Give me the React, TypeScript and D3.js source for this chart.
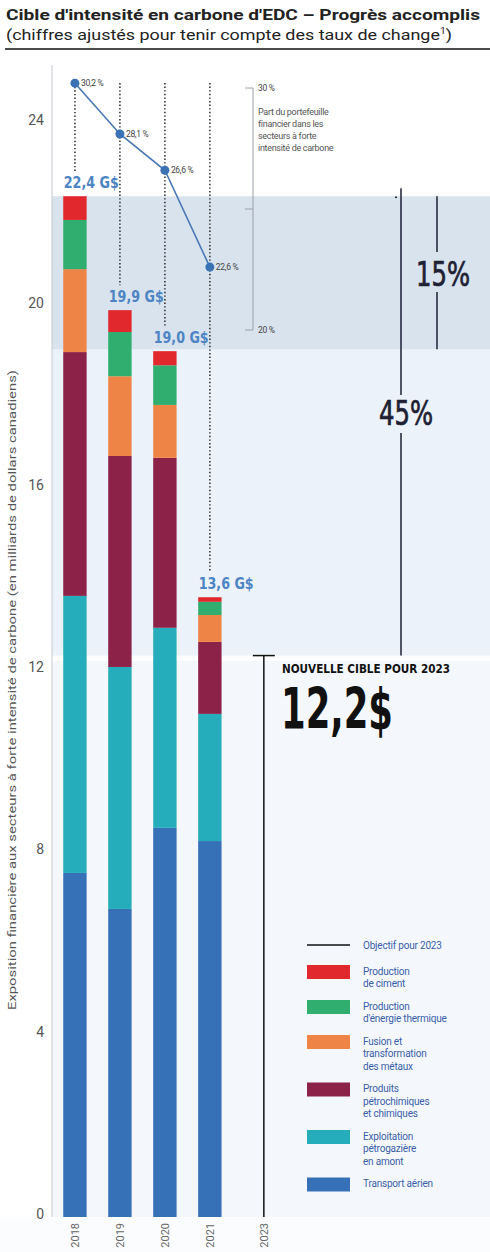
import React from 'react';
import * as d3 from 'd3';

// ---------- data ----------
const years = ['2018', '2019', '2020', '2021'];
const targetYear = '2023';
const transport = [7.55, 6.76, 8.54, 8.25];
const upstream = [6.08, 5.31, 4.39, 2.79];
const petrochem = [5.35, 4.63, 3.73, 1.58];
const metals = [1.82, 1.75, 1.16, 0.59];
const thermal = [1.08, 0.97, 0.87, 0.29];
const cement = [0.52, 0.48, 0.31, 0.1];
const totals = [22.4, 19.9, 19.0, 13.6];
const totalLabels = ['22,4 G$', '19,9 G$', '19,0 G$', '13,6 G$'];
const sharePct = [30.2, 28.1, 26.6, 22.6];
const shareLabels = ['30,2 %', '28,1 %', '26,6 %', '22,6 %'];
const yTicks = [0, 4, 8, 12, 16, 20, 24];
const pctTicks = [30, 25, 20];
const pctTickLabels = ['30 %', '', '20 %'];
const target = 12.2;
const targetLabel = '12,2$';
const reductions = [15, 45];
const reductionLabels = ['15%', '45%'];

const sectorKeys = ['transport', 'upstream', 'petrochem', 'metals', 'thermal', 'cement'];
const sectorColors = ['#3670b7', '#26adbb', '#8c2248', '#ef8447', '#2fae6f', '#e1282c'];
const sectorLegend = [
  ['Transport aérien'],
  ['Exploitation', 'pétrogazière', 'en amont'],
  ['Produits', 'pétrochimiques', 'et chimiques'],
  ['Fusion et', 'transformation', 'des métaux'],
  ['Production', "d'énergie thermique"],
  ['Production', 'de ciment'],
];

const COND = "'Liberation Sans Narrow', 'DejaVu Sans Condensed', 'Roboto Condensed', 'Roboto', sans-serif";
const SANS = "Roboto, 'Open Sans', 'DejaVu Sans', sans-serif";

export default function App() {
  const W = 490, H = 1252;
  const axisX = 52;
  const y = d3.scaleLinear().domain([0, 25]).range([1217, 1217 - 25 * 45.57]);
  const x = d3.scaleBand().domain(years).range([axisX, axisX + 4 * 45.2]).paddingInner(0.48).paddingOuter(0.25);
  const step = x.step();
  const xc = (yr: string) => (x(yr) as number) + x.bandwidth() / 2;
  const x2023 = xc('2021') + step * 1.2;
  const pctY = d3.scaleLinear().domain([20, 30]).range([330, 88]);
  const pctAxisX = 253;

  const rows = years.map((yr, i) => ({
    year: yr,
    transport: transport[i], upstream: upstream[i], petrochem: petrochem[i],
    metals: metals[i], thermal: thermal[i], cement: cement[i],
  }));
  const stacked = d3.stack<any>().keys(sectorKeys)(rows);

  const base = totals[0];
  const bandBottoms = reductions.map(r => base * (1 - r / 100));
  const line = d3.line<number>().x((_, i) => xc(years[i])).y(d => pctY(d));

  // legend layout
  const legendItems = sectorKeys.map((k, i) => ({ k, i })).reverse();
  let ly = 965;
  const legendPos = legendItems.map(({ k, i }) => {
    const pos = { k, color: sectorColors[i], lines: sectorLegend[i], y: ly };
    ly += sectorLegend[i].length * 12.5 + 10;
    return pos;
  });

  const blue = '#4d84c3';
  const dark = '#1d2133';

  return (
    <svg width={W} height={H} style={{ position: 'absolute', left: 0, top: 0, background: '#fff' }}>
      {/* title */}
      <text x={6} y={20} fontFamily={SANS} fontWeight={700} fontSize={15.5} fill="#222" textLength={474} lengthAdjust="spacingAndGlyphs">
        Cible d'intensité en carbone d'EDC – Progrès accomplis
      </text>
      <text x={6} y={40} fontFamily={SANS} fontSize={15.5} fill="#222" textLength={446} lengthAdjust="spacingAndGlyphs">
        (chiffres ajustés pour tenir compte des taux de change<tspan fontSize={9} dy={-6}>1</tspan><tspan dy={6}>)</tspan>
      </text>
      <line x1={5} x2={490} y1={49} y2={49} stroke="#111" strokeWidth={1.5} />

      {/* backgrounds */}
      <rect x={axisX} y={y(target)} width={W - axisX} height={y(0) - y(target)} fill="#f4f8fc" />
      <rect x={axisX} y={y(bandBottoms[0])} width={W - axisX} height={y(bandBottoms[1]) - y(bandBottoms[0])} fill="#ebf2fa" />
      <rect x={axisX} y={y(base)} width={W - axisX} height={y(bandBottoms[0]) - y(base)} fill="#d8e3ee" />
      <rect x={0} y={y(0) + 1} width={W} height={H - y(0)} fill="#fbfcfe" />

      {/* y axis */}
      <line x1={axisX} x2={axisX} y1={65} y2={y(0)} stroke="#c4c9d0" strokeWidth={1} />
      {yTicks.map(t => (
        <text key={t} x={44} y={y(t) - 3} dy="0.35em" textAnchor="end" fontFamily={SANS} fontSize={14} fill="#555">{t}</text>
      ))}
      <text transform={`translate(16,${690}) rotate(-90)`} textAnchor="middle" fontFamily={SANS} fontSize={11.5} fill="#555" textLength={640} lengthAdjust="spacingAndGlyphs">
        Exposition financière aux secteurs à forte intensité de carbone (en milliards de dollars canadiens)
      </text>

      {/* bars */}
      {stacked.map((s, si) => (
        <g key={s.key} fill={sectorColors[si]}>
          {s.map((d, i) => (
            <rect key={i} x={x(years[i])} y={y(d[1])} width={x.bandwidth()} height={y(d[0]) - y(d[1])} />
          ))}
        </g>
      ))}

      {/* dotted guides */}
      {years.map((yr, i) => (
        <line key={yr} x1={xc(yr)} x2={xc(yr)} y1={i === 0 ? pctY(sharePct[0]) : 83} y2={y(totals[i]) - 25}
          stroke="#333" strokeWidth={1.6} strokeDasharray="1.4,2.2" />
      ))}

      {/* total labels */}
      {years.map((yr, i) => (
        <text key={yr} x={(x(yr) as number) + 0.5} y={y(totals[i]) - 8} fontFamily={COND} fontStretch="condensed" fontWeight={700} fontSize={16} fill={blue} textLength={55} lengthAdjust="spacingAndGlyphs">
          {totalLabels[i]}
        </text>
      ))}

      {/* share line */}
      <path d={line(sharePct) as string} fill="none" stroke="#4a78b5" strokeWidth={1.6} />
      {sharePct.map((p, i) => (
        <g key={i}>
          <circle cx={xc(years[i])} cy={pctY(p)} r={4.5} fill="#3b72b6" />
          <text x={xc(years[i]) + 6} y={pctY(p)} dy="0.35em" fontFamily={SANS} fontSize={8.5} fill="#444" letterSpacing={-0.3}>{shareLabels[i]}</text>
        </g>
      ))}
      <line x1={pctAxisX} x2={pctAxisX} y1={pctY(30)} y2={pctY(20)} stroke="#9aa0a8" strokeWidth={1} />
      {pctTicks.map((t, i) => (
        <g key={t}>
          <line x1={pctAxisX - 8} x2={pctAxisX} y1={pctY(t)} y2={pctY(t)} stroke="#9aa0a8" strokeWidth={1} />
          {pctTickLabels[i] ? (
            <text x={pctAxisX + 5} y={pctY(t)} dy="0.35em" fontFamily={SANS} fontSize={8.5} fill="#444" letterSpacing={-0.3}>{pctTickLabels[i]}</text>
          ) : null}
        </g>
      ))}
      {['Part du portefeuille', 'financier dans les', 'secteurs à forte', 'intensité de carbone'].map((s, i) => (
        <text key={i} x={pctAxisX + 5} y={112 + i * 12} dy="0.35em" fontFamily={SANS} fontSize={9} fill="#555" letterSpacing={-0.3}>{s}</text>
      ))}

      {/* reduction brackets */}
      {/* 45% */}
      <line x1={401} x2={401} y1={y(base) - 8} y2={395} stroke={dark} strokeWidth={1.5} />
      <line x1={401} x2={401} y1={433} y2={y(bandBottoms[1])} stroke={dark} strokeWidth={1.5} />
      <line x1={395} x2={397} y1={y(base) + 1} y2={y(base) + 1} stroke={dark} strokeWidth={1.5} />
      <text x={406} y={425} textAnchor="middle" fontFamily={COND} fontStretch="condensed" fontSize={34} fill={dark} stroke={dark} strokeWidth={0.7} textLength={54} lengthAdjust="spacingAndGlyphs">{reductionLabels[1]}</text>
      {/* 15% */}
      <line x1={437} x2={437} y1={y(base)} y2={252} stroke={dark} strokeWidth={1.5} />
      <line x1={437} x2={437} y1={292} y2={y(bandBottoms[0])} stroke={dark} strokeWidth={1.5} />
      <text x={443} y={286} textAnchor="middle" fontFamily={COND} fontStretch="condensed" fontSize={34} fill={dark} stroke={dark} strokeWidth={0.7} textLength={54} lengthAdjust="spacingAndGlyphs">{reductionLabels[0]}</text>

      {/* target */}
      <line x1={x2023} x2={x2023} y1={y(bandBottoms[1])} y2={y(0)} stroke="#111" strokeWidth={1.5} />
      <line x1={x2023 - 11} x2={x2023 + 11} y1={y(bandBottoms[1])} y2={y(bandBottoms[1])} stroke="#111" strokeWidth={1.5} />
      <text x={282} y={673} fontFamily={COND} fontStretch="condensed" fontWeight={700} fontSize={12.5} fill="#111" textLength={168} lengthAdjust="spacingAndGlyphs">{`NOUVELLE CIBLE POUR ${targetYear}`}</text>
      <text x={281} y={729} fontFamily={COND} fontStretch="condensed" fontWeight={700} fontSize={57} fill="#111" textLength={112} lengthAdjust="spacingAndGlyphs">{targetLabel}</text>

      {/* x labels */}
      {[...years, targetYear].map((yr, i) => {
        const cx = i < years.length ? xc(yr) : x2023;
        return (
          <text key={yr} transform={`translate(${cx},1223) rotate(-90)`} textAnchor="end" dy="0.35em" fontFamily={SANS} fontSize={11} fill="#666">{yr}</text>
        );
      })}

      {/* legend */}
      <line x1={307} x2={350} y1={945} y2={945} stroke="#111" strokeWidth={1.5} />
      <text x={363} y={945} dy="0.35em" fontFamily={SANS} fontSize={10} fill="#3a5ea8" letterSpacing={-0.2}>{`Objectif pour ${targetYear}`}</text>
      {legendPos.map(p => (
        <g key={p.k}>
          <rect x={307} y={p.y} width={43} height={14} fill={p.color} />
          {p.lines.map((l, j) => (
            <text key={j} x={363} y={p.y + 6 + j * 12.5} dy="0.35em" fontFamily={SANS} fontSize={10} fill="#3a5ea8" letterSpacing={-0.2}>{l}</text>
          ))}
        </g>
      ))}
    </svg>
  );
}
